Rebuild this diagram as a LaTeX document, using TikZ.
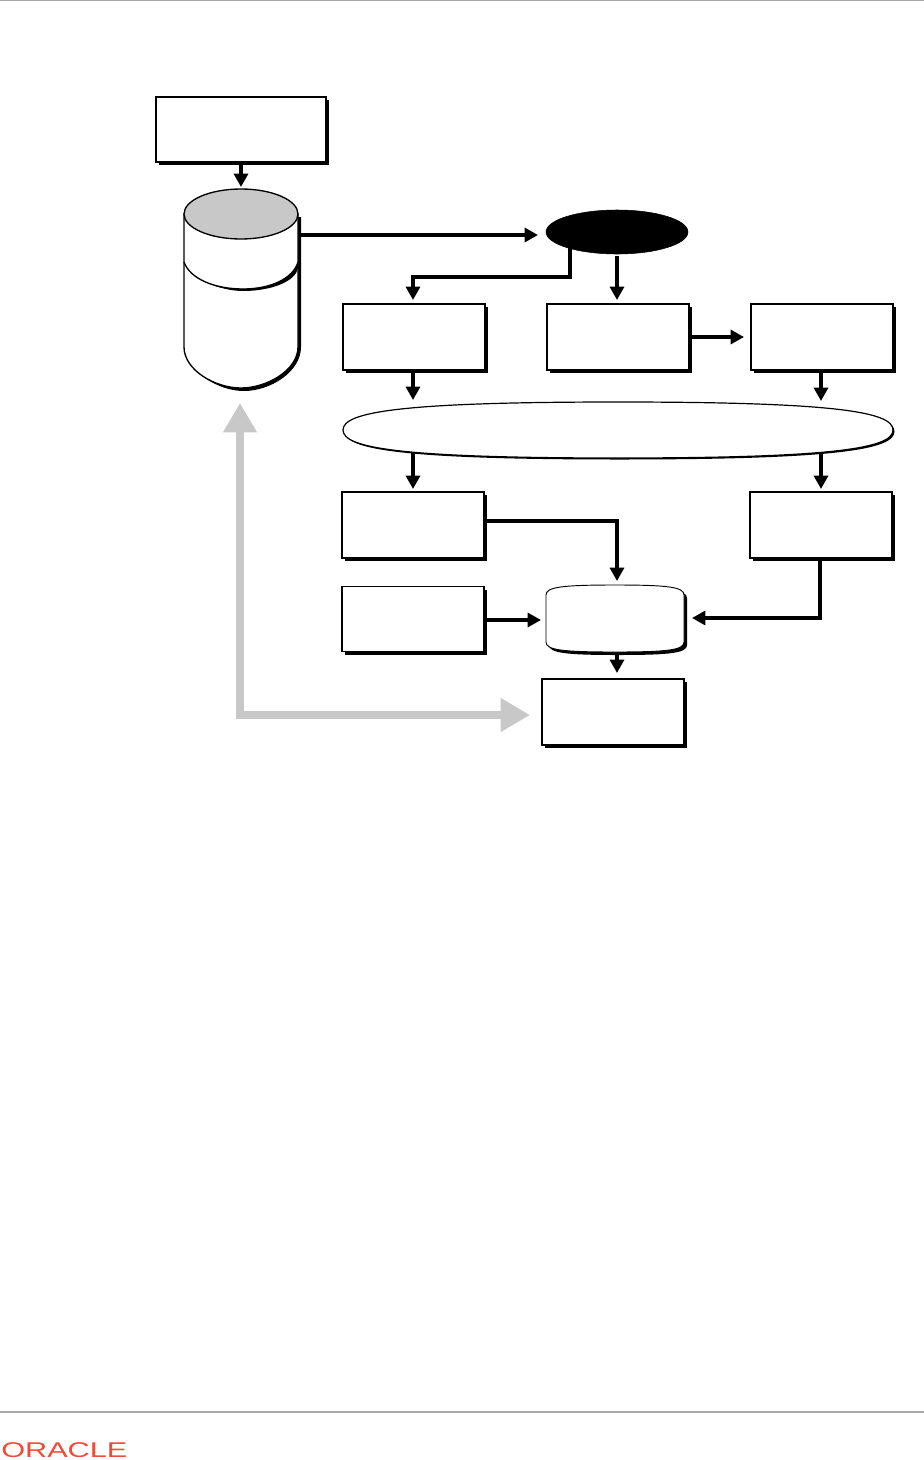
\documentclass[tikz,border=0pt]{standalone}
\usepackage{fontspec}
\setmainfont{Liberation Sans}
\usetikzlibrary{arrows.meta,calc,shadows,shapes.geometric}
\definecolor{grayarrow}{HTML}{C8C8C8}
\definecolor{cylgray}{HTML}{C8C8C8}
\definecolor{rule}{HTML}{A8A8A8}
\definecolor{oracle}{HTML}{F04B3A}
\tikzset{
  x=0.75pt,y=-0.75pt,
  hardshadow/.style={general shadow={shadow xshift=2.25pt,shadow yshift=-2.25pt,fill=black}},
  boxnode/.style={rectangle,draw=black,fill=white,line width=1pt,minimum width=106.5pt,minimum height=49.5pt,inner sep=0pt,outer sep=0pt,hardshadow},
  conn/.style={draw=black,line width=2.3pt,-{Triangle[length=10pt,width=10.5pt]}},
  grayconn/.style={draw=grayarrow,line width=6pt,{Triangle[length=22pt,width=24pt]}-{Triangle[length=22pt,width=24pt]}},
  anchorbox/.style={rectangle,draw=none,fill=none,inner sep=0pt,outer sep=0pt},
}
\begin{document}
\begin{tikzpicture}
\useasboundingbox (0,0) rectangle (924,1460);
\fill[white] (0,0) rectangle (924,1460);
% page rules
\draw[rule,line width=0.9pt] (0,0.5) -- (924,0.5);
\draw[rule,line width=0.9pt] (0,1412) -- (924,1412);
\node[anchor=west,inner sep=0pt,text=oracle] (logo) at (1,1450.5) {\scalebox{2.3}[1.6]{ORACLE}};
% boxes
\node[boxnode,minimum width=127.5pt,minimum height=48.75pt] (src) at (241,129.5) {};
\node[boxnode] (b1) at (414,337) {};
\node[boxnode] (b2) at (618,337) {};
\node[boxnode] (b3) at (822,337) {};
\node[boxnode] (b5) at (413,525) {};
\node[boxnode] (b7) at (821,525) {};
\node[boxnode,minimum height=48.75pt] (b6) at (413,619) {};
\node[boxnode] (b8) at (613,712) {};
% cylinder
\node[anchorbox,minimum width=85.5pt,minimum height=149.25pt] (cyl) at (241,288.5) {};
\fill[black] (187,217) -- (301,217) -- (301,347) .. controls (301,372) and (270,391) .. (244,391) .. controls (218,391) and (187,372) .. (187,347) -- cycle;
\path[fill=white,draw=black,line width=1pt] (184,214) -- (184,347) .. controls (184,370) and (215,388) .. (241,388) .. controls (267,388) and (298,370) .. (298,347) -- (298,214) -- cycle;
\fill[black] (298,262) .. controls (293,279) and (270,289) .. (243,289) .. controls (230,289) and (215,287) .. (205,282) .. controls (218,288) and (232,291) .. (243,291) .. controls (272,291) and (296,281) .. (298,268) -- cycle;
\path[draw=black,line width=1pt] (184,262) .. controls (190,279) and (215,289) .. (243,289) .. controls (270,289) and (293,279) .. (298,262);
\path[fill=cylgray,draw=black,line width=1pt] (241,214) ellipse [x radius=57,y radius=25];
% black ellipse
\node[ellipse,draw=black,fill=black,minimum width=106.5pt,minimum height=33pt,inner sep=0pt,outer sep=0pt] (proc) at (617,232) {};
% long ellipse
\node[anchorbox,minimum width=412.5pt,minimum height=42pt] (long) at (618,430) {};
\fill[black,xshift=1.125pt,yshift=-1.125pt] (343,430) .. controls (343,412) and (400,402) .. (618,402) .. controls (836,402) and (893,412) .. (893,430) .. controls (893,448) and (836,458) .. (618,458) .. controls (400,458) and (343,448) .. (343,430) -- cycle;
\path[fill=white,draw=black,line width=0.9pt] (343,430) .. controls (343,412) and (400,402) .. (618,402) .. controls (836,402) and (893,412) .. (893,430) .. controls (893,448) and (836,458) .. (618,458) .. controls (400,458) and (343,448) .. (343,430) -- cycle;
% rounded merge shape
\node[anchorbox,minimum width=103.5pt,minimum height=50.25pt] (merge) at (615,618.5) {};
\fill[black] (549,598) .. controls (549,590) and (565,588) .. (618,588) .. controls (671,588) and (687,590) .. (687,598) -- (687,645) .. controls (687,653) and (671,655) .. (618,655) .. controls (565,655) and (549,653) .. (549,645) -- cycle;
\path[fill=white,draw=black,line width=0.7pt] (546,595) .. controls (546,587) and (562,585) .. (615,585) .. controls (668,585) and (684,587) .. (684,595) -- (684,642) .. controls (684,650) and (668,652) .. (615,652) .. controls (562,652) and (546,650) .. (546,642) -- cycle;
% connectors
\draw[conn] ($(src.south)+(0,3)$) -- ([yshift=1.5pt]cyl.north);
\draw[conn] ($(cyl.east)+(2,-53.5)$) -- ($(proc.west)+(-8,3)$);
\draw[conn] ($(proc.south)+(-47,-6)$) |- ++(-157,29) -- ++(0,23);
\draw[conn] ($(proc.south)+(0,2)$) -- ($(b2.north)+(-1,-4)$);
\draw[conn] ($(b2.east)+(3,0)$) -- ($(b3.west)+(-7,0)$);
\draw[conn] ($(b1.south)+(-1,3)$) -- ($(long.north)+(-205,-2)$);
\draw[conn] ($(b3.south)+(-1,3)$) -- ($(long.north)+(203,-1)$);
\draw[conn] ($(long.south)+(-205,-5)$) -- ($(b5.north)+(0,-3)$);
\draw[conn] ($(long.south)+(203,-5)$) -- ($(b7.north)+(0,-3)$);
\draw[conn] ($(b5.east)+(3,-4)$) -| ($(merge.north)+(2,-4)$);
\draw[conn] ($(b6.east)+(3,1)$) -- ($(merge.west)+(-5,1.5)$);
\draw[conn] ($(b7.south)+(-1,3)$) |- ($(merge.east)+(8,-0.5)$);
\draw[conn] ($(merge.south)+(2,3)$) -- ($(b8.north)+(4,-6)$);
\draw[grayconn] ($(cyl.south)+(-1,15)$) -- ++(0,312) -- ($(b8.west)+(-12,3)$);
\end{tikzpicture}
\end{document}
